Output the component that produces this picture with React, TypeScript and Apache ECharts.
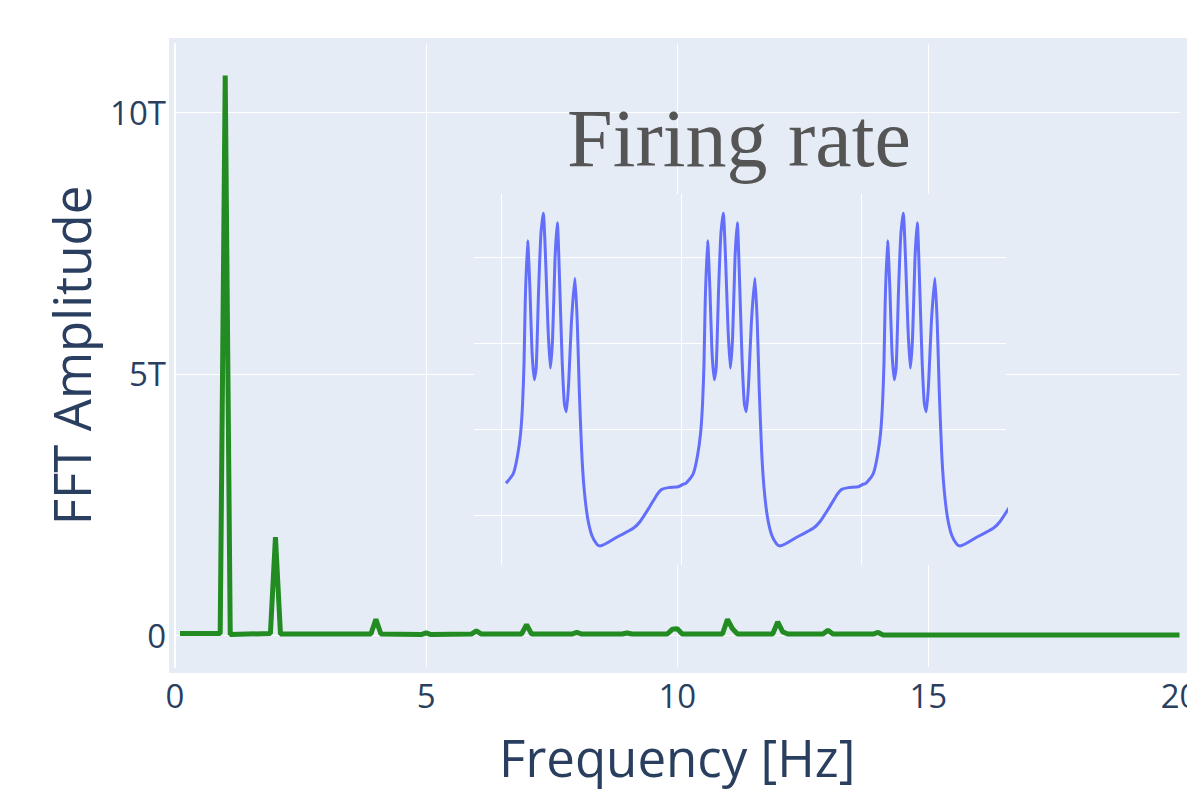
import React, { useEffect, useRef } from "react";
import * as echarts from "echarts";

// FFT spectrum (amplitude in units of 1e12 = "T")
const fftFreq = [0.1, 0.9, 1.0, 1.1, 1.9, 2.0, 2.1, 3.9, 4.0, 4.1, 4.9, 5.0, 5.1, 5.9, 6.0, 6.1, 6.9, 7.0, 7.1, 7.9, 8.0, 8.1, 8.9, 9.0, 9.1, 9.8, 9.9, 10.0, 10.1, 10.9, 11.0, 11.1, 11.2, 11.9, 12.0, 12.1, 12.2, 12.9, 13.0, 13.1, 13.9, 14.0, 14.1, 20.0];
const fftAmp = [0.04, 0.04, 10.7, 0.02, 0.04, 1.88, 0.03, 0.03, 0.31, 0.03, 0.02, 0.05, 0.02, 0.03, 0.09, 0.03, 0.03, 0.21, 0.03, 0.03, 0.06, 0.03, 0.03, 0.05, 0.03, 0.03, 0.12, 0.13, 0.03, 0.03, 0.31, 0.13, 0.03, 0.03, 0.26, 0.07, 0.03, 0.03, 0.10, 0.03, 0.03, 0.06, 0.01, 0.01];

// Inset: firing rate over time
const rateTime = [
  1.028, 1.069, 1.091, 1.109, 1.120, 1.128, 1.135, 1.148, 1.161, 1.172, 1.185, 1.196, 1.209, 1.222, 1.235, 1.248, 1.261, 1.274, 1.287, 1.300, 1.313, 1.326, 1.339, 1.352, 1.363, 1.376, 1.391, 1.411, 1.424, 1.435, 1.448, 1.461, 1.480, 1.504, 1.532, 1.550, 1.643, 1.735, 1.772, 1.824, 1.869, 1.893, 1.930, 1.985, 2.013,
  2.028, 2.069, 2.091, 2.109, 2.120, 2.128, 2.135, 2.148, 2.161, 2.172, 2.185, 2.196, 2.209, 2.222, 2.235, 2.248, 2.261, 2.274, 2.287, 2.300, 2.313, 2.326, 2.339, 2.352, 2.363, 2.376, 2.391, 2.411, 2.424, 2.435, 2.448, 2.461, 2.480, 2.504, 2.532, 2.550, 2.643, 2.735, 2.772, 2.824, 2.869, 2.893, 2.930, 2.985, 3.013,
  3.028, 3.069, 3.091, 3.109, 3.120, 3.128, 3.135, 3.148, 3.161, 3.172, 3.185, 3.196, 3.209, 3.222, 3.235, 3.248, 3.261, 3.274, 3.287, 3.300, 3.313, 3.326, 3.339, 3.352, 3.363, 3.376, 3.391, 3.411, 3.424, 3.435, 3.448, 3.461, 3.480, 3.504, 3.532, 3.550, 3.643, 3.735, 3.772, 3.824,
];
const rateValue = [
  27.5, 29.8, 33.7, 39.1, 46.0, 55.3, 70.0, 83.7, 72.3, 58.4, 51.5, 54.5, 72.3, 85.4, 90.1, 79.3, 63.8, 54.2, 61.5, 79.3, 87.9, 73.9, 56.9, 46.0, 44.1, 50.7, 64.6, 75.0, 64.6, 49.1, 35.2, 26.7, 19.8, 15.5, 13.4, 13.0, 15.0, 17.1, 18.6, 21.9, 25.0, 26.1, 26.5, 26.7, 27.3,
  27.5, 29.8, 33.7, 39.1, 46.0, 55.3, 70.0, 83.7, 72.3, 58.4, 51.5, 54.5, 72.3, 85.4, 90.1, 79.3, 63.8, 54.2, 61.5, 79.3, 87.9, 73.9, 56.9, 46.0, 44.1, 50.7, 64.6, 75.0, 64.6, 49.1, 35.2, 26.7, 19.8, 15.5, 13.4, 13.0, 15.0, 17.1, 18.6, 21.9, 25.0, 26.1, 26.5, 26.7, 27.3,
  27.5, 29.8, 33.7, 39.1, 46.0, 55.3, 70.0, 83.7, 72.3, 58.4, 51.5, 54.5, 72.3, 85.4, 90.1, 79.3, 63.8, 54.2, 61.5, 79.3, 87.9, 73.9, 56.9, 46.0, 44.1, 50.7, 64.6, 75.0, 64.6, 49.1, 35.2, 26.7, 19.8, 15.5, 13.4, 13.0, 15.0, 17.1, 18.6, 21.9,
];

const xTitle = "Frequency [Hz]";
const yTitle = "FFT Amplitude";
const insetTitle = "Firing rate";

const BG = "#e5ecf6";
const TXT = "#2a3f5f";
const FONT = "'Open Sans', sans-serif";

export default function App() {
  const ref = useRef<HTMLDivElement>(null);
  useEffect(() => {
    if (!ref.current) return;
    const chart = echarts.init(ref.current, undefined, { renderer: "svg" });
    const fftData = fftFreq.map((f, i) => [f, fftAmp[i]]);
    const rateData = rateTime.map((t, i) => [t, rateValue[i]]);
    chart.setOption({
      animation: false,
      backgroundColor: "#fff",
      graphic: {
        elements: [
          { type: "rect", z: -1, silent: true, shape: { x: 169, y: 38, width: 1030, height: 635 }, style: { fill: BG } },
          { type: "rect", z: 1, silent: true, shape: { x: 474, y: 194, width: 532, height: 371 }, style: { fill: BG } },
          {
            type: "text", z: 1, silent: true, x: 739, y: 138,
            style: { text: insetTitle, font: "82px 'Liberation Serif', serif", fill: "#555", textAlign: "center", textVerticalAlign: "middle" },
          },
        ],
      },
      grid: [
        { left: 175, top: 44, width: 1004.5, height: 623, containLabel: false, outerBoundsMode: "none" },
        { left: 474, top: 194, width: 532, height: 371, containLabel: false, outerBoundsMode: "none" },
      ],
      xAxis: [
        {
          type: "value", gridIndex: 0, min: 0, max: 20, interval: 5, z: 0,
          axisLine: { show: false }, axisTick: { show: false },
          axisLabel: { color: TXT, fontFamily: FONT, fontSize: 33, margin: 12, hideOverlap: false },
          splitLine: { show: true, showMinLine: false, showMaxLine: false, lineStyle: { color: "#fff", width: 1 } },
          name: xTitle, nameLocation: "middle", nameGap: 64,
          nameTextStyle: { color: TXT, fontFamily: FONT, fontSize: 51 },
        },
        {
          type: "value", gridIndex: 1, min: 0.85, max: 3.806, splitNumber: 3, z: 2,
          axisLine: { show: false }, axisTick: { show: false }, axisLabel: { show: false },
          splitLine: { show: true, showMinLine: false, showMaxLine: false, lineStyle: { color: "#fff", width: 1 } },
        },
      ],
      yAxis: [
        {
          type: "value", gridIndex: 0, min: -0.6, max: 11.3, splitNumber: 2, z: 0,
          axisLine: { show: true, onZero: false, lineStyle: { color: "#fff", width: 2 } },
          axisTick: { show: false },
          axisLabel: {
            color: TXT, fontFamily: FONT, fontSize: 33, margin: 9, showMinLabel: false, showMaxLabel: false,
            formatter: (v: number) => (Math.abs(v) < 1e-9 ? "0" : Math.abs(v % 5) < 1e-9 ? `${v}T` : ""),
          },
          splitLine: { show: true, showMinLine: false, showMaxLine: false, lineStyle: { color: "#fff", width: 1 } },
          name: yTitle, nameLocation: "middle", nameGap: 79, nameRotate: 90,
          nameTextStyle: { color: TXT, fontFamily: FONT, fontSize: 51 },
        },
        {
          type: "value", gridIndex: 1, min: 8.57, max: 94.55, splitNumber: 4, z: 2,
          axisLine: { show: false }, axisTick: { show: false }, axisLabel: { show: false },
          splitLine: { show: true, showMinLine: false, showMaxLine: false, lineStyle: { color: "#fff", width: 1 } },
        },
      ],
      series: [
        {
          type: "line", xAxisIndex: 0, yAxisIndex: 0, data: fftData, showSymbol: false, symbol: "none", z: 2,
          lineStyle: { color: "#228b22", width: 5 }, silent: true,
        },
        {
          type: "line", xAxisIndex: 1, yAxisIndex: 1, data: rateData, showSymbol: false, symbol: "none", z: 3,
          smooth: 0.2,
          lineStyle: { color: "#636efa", width: 3 }, silent: true, clip: true,
        },
      ],
    });
    return () => chart.dispose();
  }, []);
  return <div ref={ref} style={{ position: "absolute", left: 0, top: 0, width: 1187, height: 800 }} />;
}
